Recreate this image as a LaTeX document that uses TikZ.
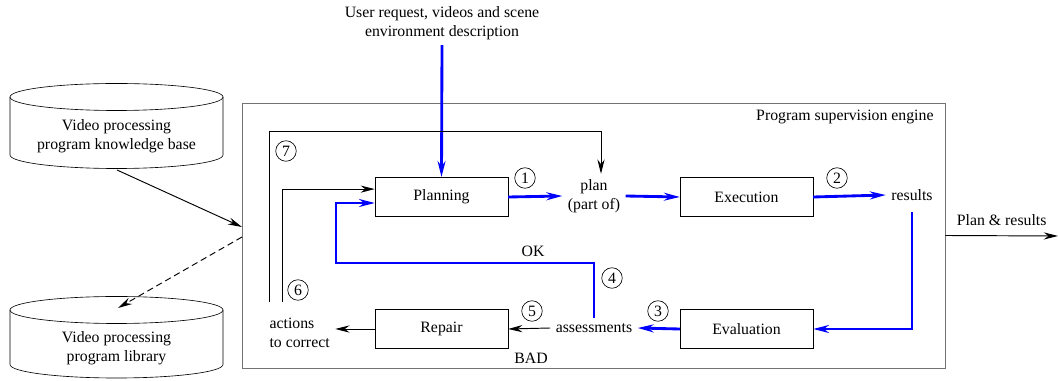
\documentclass[tikz,border=0pt]{standalone}
\usepackage{fontspec}
\setmainfont{Liberation Serif}
\usetikzlibrary{positioning,arrows.meta}

\begin{document}
\begin{tikzpicture}[x=0.633pt,y=0.633pt,
box/.style={draw,rectangle,minimum width=84pt,minimum height=25pt,align=center},
num/.style={draw,circle,inner sep=0pt,minimum size=13pt},
blk/.style={line width=0.6pt,-{Stealth[length=9pt,width=4.5pt]}},
blu/.style={blue,line width=1.8pt,-{Stealth[length=10pt,width=5pt]}}]
\useasboundingbox (0,0) rectangle (1058,381);

% engine frame
\node (engine) [draw=black!55,line width=0.5pt,minimum width=445pt,minimum height=167.7pt] at (593.5,145.5) {};
\node [anchor=north east,xshift=-4pt,yshift=-1pt] at (engine.north east) {Program supervision engine};

% data bases
\draw (10,284) -- (10,226) arc (180:360:106.5 and 13.5) -- (223,284);
\draw (116.5,284) ellipse (106.5 and 13.5);
\node (kb) [align=center] at (116.5,245) {Video processing\\program knowledge base};
\draw (10,71) -- (10,16.5) arc (180:360:106.5 and 13.5) -- (223,71);
\draw (116.5,71) ellipse (106.5 and 13.5);
\node (lib) [align=center] at (116.5,33) {Video processing\\program library};

% steps
\node (req) [align=center] at (442,358) {User request, videos and scene\\environment description};
\node (plan) [box] at (441.5,184) {Planning};
\node (exec) [box] at (746.5,184) {Execution};
\node (eval) [box] at (746.5,52) {Evaluation};
\node (repair) [box] at (441.5,52) {Repair};
\node (part) [align=center] at (594,185) {plan\\(part of)};
\node (results) at (912,186) {results};
\node (assess) at (594,53) {assessments};
\node (actions) [align=left,anchor=west] at (264,48) {actions\\to correct};
\node (oklab) at (533,130) {OK};
\node (badlab) at (531,23) {BAD};

\node (n1) [num] at (525,203) {1};
\node (n2) [num] at (837,203) {2};
\node (n3) [num] at (658,70) {3};
\node (n4) [num] at (612,103) {4};
\node (n5) [num] at (532,70) {5};
\node (n6) [num] at (298,91) {6};
\node (n7) [num] at (286,230) {7};

\coordinate (kbout) at (117,211);
\coordinate (kbin) at (242,154);
\coordinate (libout) at (242,144);
\coordinate (libin) at (118,73);
\coordinate (a7) at (269,79);
\coordinate (t7) at (601,250);
\coordinate (a6) at (282,79);
\coordinate (ok) at (336,118);
\coordinate (out) at (1058,145);

% main flow
\draw[blu] (req.south) -- (plan.north);
\draw[blu] (plan.east) -- (part.west);
\draw[blu] (part.east) -- (exec.west);
\draw[blu] (exec.east) -- (results.west);
\draw[blu] ([yshift=-4pt]results.south) |- (eval.east);
\draw[blu] (eval.west) -- (assess.east);
\draw[blu] (assess.north) |- (ok) |- ([yshift=-3.8pt]plan.west);
\draw[blk] (assess.west) -- (repair.east);
\draw[blk] (repair.west) -- (repair.west -| actions.east);
\draw[blk] (a6) |- ([yshift=5pt]plan.west);
\draw[blk] (a7) |- (t7) -- (t7 |- part.north);

% outside
\draw[blk] (kbout) -- (kbin);
\draw[blk,dash pattern=on 4pt off 2.5pt] (libout) -- (libin);
\draw[blk] (engine.east) -- (out) node [midway,above=3pt] {Plan \& results};
\end{tikzpicture}
\end{document}
